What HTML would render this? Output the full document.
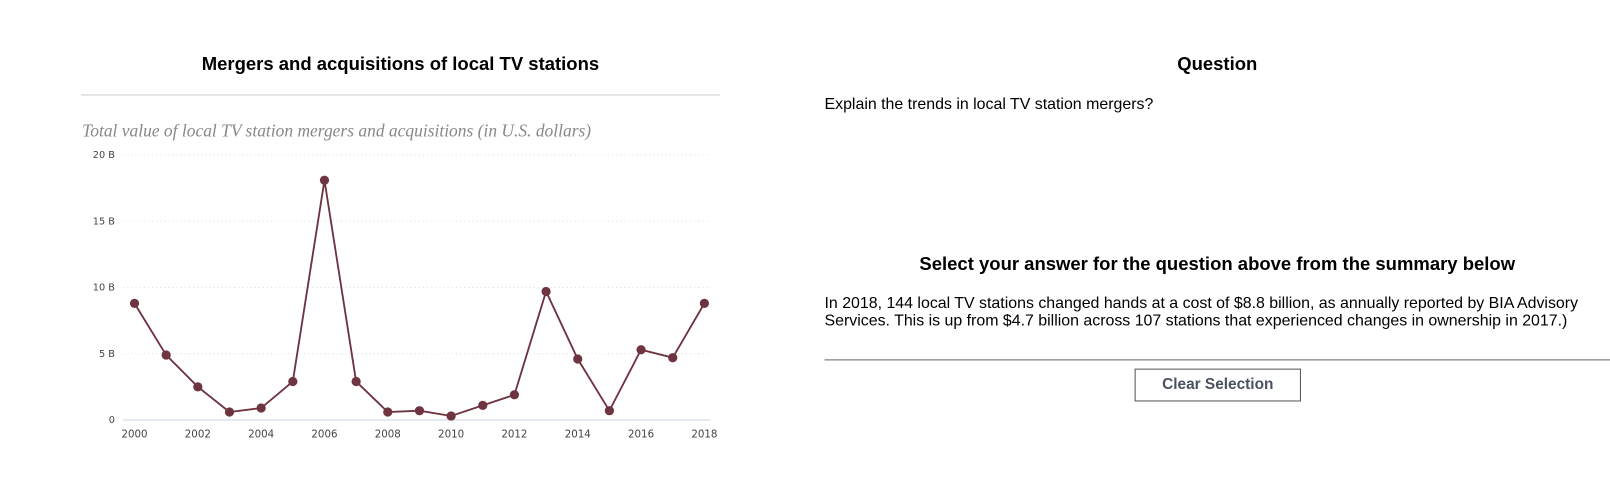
<!DOCTYPE html>
<html><head><meta charset="utf-8"><style>
body{margin:0;width:1610px;height:497px;background:#fff;font-family:"Liberation Sans",sans-serif;position:relative;overflow:hidden}
#wrap{position:absolute;left:0;top:0;width:1568px;height:484px;transform:scale(1.02679);transform-origin:0 0}
.abs{position:absolute}
</style></head><body>
<div id="wrap">
<div class="abs" style="left:80px;top:52px;width:620px;text-align:center;font-weight:bold;font-size:18px">Mergers and acquisitions of local TV stations</div>
<div class="abs" style="left:79px;top:92px;width:622px;height:1px;background:#ccc"></div>
<div class="abs" style="left:80px;top:118px;font-family:'Liberation Serif',serif;font-style:italic;font-size:17px;color:#888">Total value of local TV station mergers and acquisitions (in U.S. dollars)</div>
<svg class="abs" style="left:0;top:0" width="720" height="484" id="chart"></svg>
<div class="abs" style="left:803px;top:52px;width:765px;text-align:center;font-weight:bold;font-size:18px">Question</div>
<div class="abs" style="left:803px;top:93px;font-size:15.5px">Explain the trends in local TV station mergers?</div>
<div class="abs" style="left:803px;top:247px;width:765px;text-align:center;font-weight:bold;font-size:18px">Select your answer for the question above from the summary below</div>
<div class="abs" style="left:803px;top:287px;width:750px;font-size:15.5px;line-height:17px">In 2018, 144 local TV stations changed hands at a cost of $8.8 billion, as annually reported by BIA Advisory Services. This is up from $4.7 billion across 107 stations that experienced changes in ownership in 2017.)</div>
<div class="abs" style="left:803px;top:350px;width:765px;height:1px;background:#666"></div>
<div class="abs" style="left:1105px;top:359px;width:162px;height:32px;border:1px solid #555;box-sizing:border-box;text-align:center;line-height:30px;font-weight:bold;font-size:15px;color:#4a5260">Clear Selection</div>
</div>
<script>
const years=[2000,2001,2002,2003,2004,2005,2006,2007,2008,2009,2010,2011,2012,2013,2014,2015,2016,2017,2018];
const values=[8.8,4.9,2.5,0.6,0.9,2.9,18.1,2.9,0.6,0.7,0.3,1.1,1.9,9.7,4.6,0.7,5.3,4.7,8.8];
const yTicks=[0,5,10,15,20];
const yTickLabels=["0","5 B","10 B","15 B","20 B"];
const xTicks=[2000,2002,2004,2006,2008,2010,2012,2014,2016,2018];
const svg=document.getElementById('chart');const NS='http://www.w3.org/2000/svg';
const x=v=>131+(v-2000)*(686-131)/18;
const y=v=>409-v*(409-151)/20;
function mk(t,a){const e=document.createElementNS(NS,t);for(const k in a)e.setAttribute(k,a[k]);svg.appendChild(e);return e;}
yTicks.forEach((t,i)=>{
 const l=mk('line',{x1:120,x2:692,y1:y(t),y2:y(t),stroke:t===0?'#c8d4e0':'#ddd','stroke-dasharray':t===0?'':'1,3'});
 
 
 const tx=mk('text',{x:112,y:y(t)+3,'text-anchor':'end','font-size':9.5,fill:'#444','font-family':'DejaVu Sans, sans-serif'});
 tx.textContent=yTickLabels[i];
 
 
});
xTicks.forEach(t=>{
 const tx=mk('text',{x:x(t),y:426,'text-anchor':'middle','font-size':10,fill:'#444','font-family':'DejaVu Sans, sans-serif'});
 tx.textContent=t;
 
 
});
const p=mk('polyline',{points:years.map((yr,i)=>x(yr)+','+y(values[i])).join(' '),fill:'none',stroke:'#6e3440','stroke-width':1.8});


years.forEach((yr,i)=>{
 const c=mk('circle',{cx:x(yr),cy:y(values[i]),r:4.5,fill:'#6e3440'});
 
 
});
</script>
</body></html>
